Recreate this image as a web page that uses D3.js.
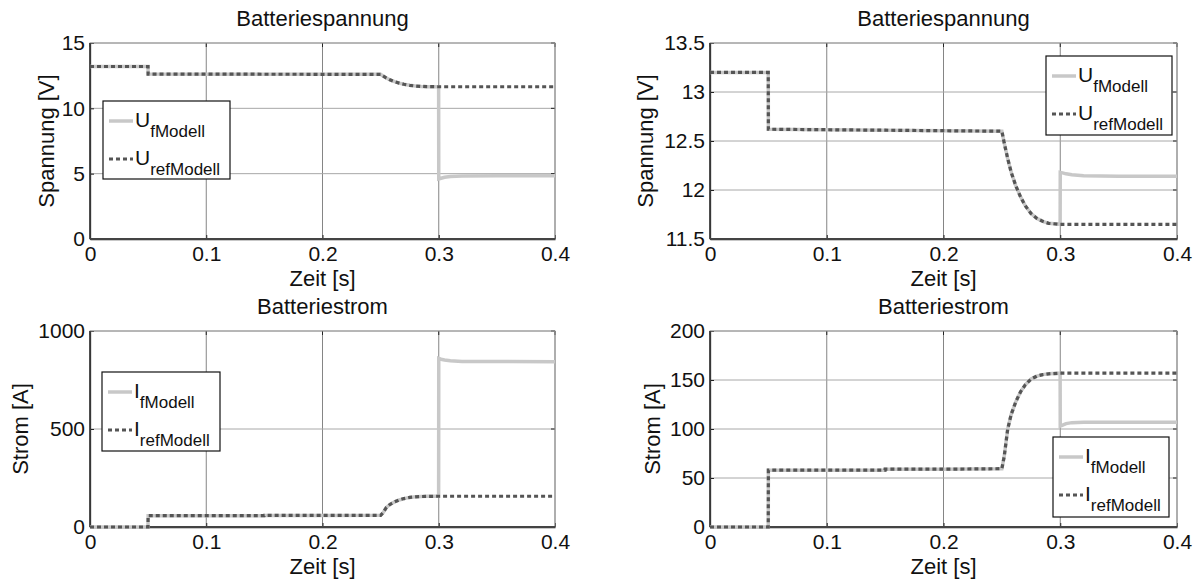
<!DOCTYPE html>
<html>
<head>
<meta charset="utf-8">
<script src="https://cdn.jsdelivr.net/npm/d3@7"></script>
<style>
  html, body { margin: 0; padding: 0; background: #fff; }
  svg { display: block; font-family: "Liberation Sans", Arial, sans-serif; }
</style>
</head>
<body>
<svg id="fig" width="1203" height="583"></svg>
<script>
// Simulation time samples [s]
const time = [0, 0.0499, 0.05, 0.1, 0.1499, 0.15, 0.2, 0.25, 0.252, 0.255, 0.258, 0.262, 0.266, 0.27,
              0.275, 0.28, 0.285, 0.29, 0.2999, 0.3, 0.302, 0.305, 0.31, 0.32, 0.35, 0.4];

// Battery voltage [V]
const uRef    = [13.2, 13.2, 12.62, 12.615, 12.61, 12.61, 12.605, 12.6, 12.48, 12.32, 12.18, 12.04, 11.93, 11.84,
                 11.76, 11.71, 11.68, 11.66, 11.65, 11.65, 11.65, 11.65, 11.65, 11.65, 11.65, 11.65];
const uFaultA = [13.2, 13.2, 12.62, 12.615, 12.61, 12.61, 12.605, 12.6, 12.48, 12.32, 12.18, 12.04, 11.93, 11.84,
                 11.76, 11.71, 11.68, 11.66, 11.65, 4.6, 4.65, 4.72, 4.78, 4.82, 4.84, 4.85];
const uFaultB = [13.2, 13.2, 12.62, 12.615, 12.61, 12.61, 12.605, 12.6, 12.48, 12.32, 12.18, 12.04, 11.93, 11.84,
                 11.76, 11.71, 11.68, 11.66, 11.65, 12.18, 12.175, 12.165, 12.155, 12.145, 12.14, 12.14];

// Battery current [A]
const iRef    = [0, 0, 58, 58, 58, 59, 59, 59.5, 72, 100, 115, 128, 138, 145,
                 151, 154, 155.5, 156.3, 157, 157, 157, 157, 157, 157, 157, 157];
const iFaultA = [0, 0, 58, 58, 58, 59, 59, 59.5, 72, 100, 115, 128, 138, 145,
                 151, 154, 155.5, 156.3, 157, 860, 856, 852, 848, 845, 844, 843];
const iFaultB = [0, 0, 58, 58, 58, 59, 59, 59.5, 72, 100, 115, 128, 138, 145,
                 151, 154, 155.5, 156.3, 157, 103, 104, 105.5, 106.5, 107, 107, 107];

// Tick labels
const xTicks  = [0, 0.1, 0.2, 0.3, 0.4];
const uTicksA = [0, 5, 10, 15];
const uTicksB = [11.5, 12, 12.5, 13, 13.5];
const iTicksA = [0, 500, 1000];
const iTicksB = [0, 50, 100, 150, 200];

const titles = { u: "Batteriespannung", i: "Batteriestrom" };
const yLabels = { u: "Spannung [V]", i: "Strom [A]" };
const xLabel = "Zeit [s]";

const FONT = 22;
const TICK_FONT = 21;

const svg = d3.select("#fig");

const panels = [
  { left: 90,  top: 43,  width: 465, height: 196, yDomain: [0, 15], yTicks: uTicksA,
    fault: uFaultA, ref: uRef, title: titles.u, yLabel: yLabels.u, yLabelX: 46,
    sym: "U", legend: { x: 103, y: 101, w: 127, h: 78 } },
  { left: 710, top: 43,  width: 467, height: 196, yDomain: [11.5, 13.5], yTicks: uTicksB,
    fault: uFaultB, ref: uRef, title: titles.u, yLabel: yLabels.u, yLabelX: 645,
    sym: "U", legend: { x: 1046, y: 56, w: 126, h: 79 } },
  { left: 90,  top: 331, width: 465, height: 196, yDomain: [0, 1000], yTicks: iTicksA,
    fault: iFaultA, ref: iRef, title: titles.i, yLabel: yLabels.i, yLabelX: 20,
    sym: "I", legend: { x: 102, y: 372, w: 118, h: 79 } },
  { left: 710, top: 331, width: 467, height: 196, yDomain: [0, 200], yTicks: iTicksB,
    fault: iFaultB, ref: iRef, title: titles.i, yLabel: yLabels.i, yLabelX: 652,
    sym: "I", legend: { x: 1053, y: 437, w: 116, h: 80 } }
];

const fmt = d => String(d);

panels.forEach(p => {
  const x = d3.scaleLinear().domain([0, 0.4]).range([p.left, p.left + p.width]);
  const y = d3.scaleLinear().domain(p.yDomain).range([p.top + p.height, p.top]);
  const g = svg.append("g");

  // grid
  g.append("g").selectAll("line").data(xTicks).join("line")
    .attr("x1", d => x(d)).attr("x2", d => x(d))
    .attr("y1", p.top).attr("y2", p.top + p.height)
    .attr("stroke", "#858585").attr("stroke-width", 1);
  g.append("g").selectAll("line").data(p.yTicks).join("line")
    .attr("x1", p.left).attr("x2", p.left + p.width)
    .attr("y1", d => y(d)).attr("y2", d => y(d))
    .attr("stroke", "#a8a8a8").attr("stroke-width", 1);

  // axes
  const xAxis = d3.axisBottom(x).tickValues(xTicks).tickFormat(fmt).tickSizeInner(-4).tickSizeOuter(0).tickPadding(7);
  const yAxis = d3.axisLeft(y).tickValues(p.yTicks).tickFormat(fmt).tickSizeInner(-4).tickSizeOuter(0).tickPadding(5);
  const gx = g.append("g").attr("transform", `translate(0,${p.top + p.height})`).call(xAxis);
  const gy = g.append("g").attr("transform", `translate(${p.left},0)`).call(yAxis);
  [gx, gy].forEach(a => {
    a.select(".domain").attr("stroke", "#222").attr("stroke-width", 1.3);
    a.selectAll(".tick line").attr("stroke", "#222");
    a.selectAll(".tick text").attr("fill", "#111").attr("font-size", TICK_FONT)
      .attr("font-family", "Liberation Sans, Arial, sans-serif");
  });
  // top / right ticks
  g.append("g").selectAll("line").data(xTicks).join("line")
    .attr("x1", d => x(d)).attr("x2", d => x(d))
    .attr("y1", p.top).attr("y2", p.top + 4).attr("stroke", "#222");
  g.append("g").selectAll("line").data(p.yTicks).join("line")
    .attr("x1", p.left + p.width - 4).attr("x2", p.left + p.width)
    .attr("y1", d => y(d)).attr("y2", d => y(d)).attr("stroke", "#222");
  g.append("rect").attr("x", p.left).attr("y", p.top).attr("width", p.width).attr("height", p.height)
    .attr("fill", "none").attr("stroke", "#9a9a9a").attr("stroke-width", 1);
  g.append("line").attr("x1", p.left).attr("x2", p.left).attr("y1", p.top).attr("y2", p.top + p.height)
    .attr("stroke", "#222").attr("stroke-width", 1.3);
  g.append("line").attr("x1", p.left).attr("x2", p.left + p.width).attr("y1", p.top + p.height).attr("y2", p.top + p.height)
    .attr("stroke", "#444").attr("stroke-width", 2);

  // series
  const line = d3.line().x((d, i) => x(time[i])).y(d => y(d));
  g.append("path").datum(p.fault).attr("d", line)
    .attr("fill", "none").attr("stroke", "#c8c8c8").attr("stroke-width", 3.5);
  g.append("path").datum(p.ref).attr("d", line)
    .attr("fill", "none").attr("stroke", "#555").attr("stroke-width", 3.2)
    .attr("stroke-dasharray", "4,3");

  // titles and labels
  g.append("text").attr("x", p.left + p.width / 2).attr("y", p.top - 17)
    .attr("text-anchor", "middle").attr("font-size", FONT).attr("fill", "#111").text(p.title);
  g.append("text").attr("x", p.left + p.width / 2).attr("y", p.top + p.height + 47)
    .attr("text-anchor", "middle").attr("font-size", FONT).attr("fill", "#111").text(xLabel);
  g.append("text").attr("transform", `translate(${p.yLabelX},${p.top + p.height / 2}) rotate(-90)`)
    .attr("text-anchor", "middle").attr("dominant-baseline", "central")
    .attr("font-size", FONT).attr("fill", "#111").text(p.yLabel);

  // legend
  const L = p.legend;
  const lg = g.append("g");
  lg.append("rect").attr("x", L.x).attr("y", L.y).attr("width", L.w).attr("height", L.h)
    .attr("fill", "#fff").attr("stroke", "#111").attr("stroke-width", 1.2);
  const rows = [
    { sub: "fModell", stroke: "#c8c8c8", dash: null, cy: L.y + 20 },
    { sub: "refModell", stroke: "#555", dash: "4,3", cy: L.y + 58 }
  ];
  rows.forEach(r => {
    lg.append("line").attr("x1", L.x + 6).attr("x2", L.x + 30).attr("y1", r.cy).attr("y2", r.cy)
      .attr("stroke", r.stroke).attr("stroke-width", r.dash ? 3.2 : 3.5)
      .attr("stroke-dasharray", r.dash);
    const t = lg.append("text").attr("x", L.x + 32).attr("y", r.cy + 6)
      .attr("font-size", 21).attr("fill", "#111");
    t.append("tspan").text(p.sym);
    t.append("tspan").attr("dy", 10).attr("font-size", 17).text(r.sub);
  });
});
</script>
</body>
</html>
